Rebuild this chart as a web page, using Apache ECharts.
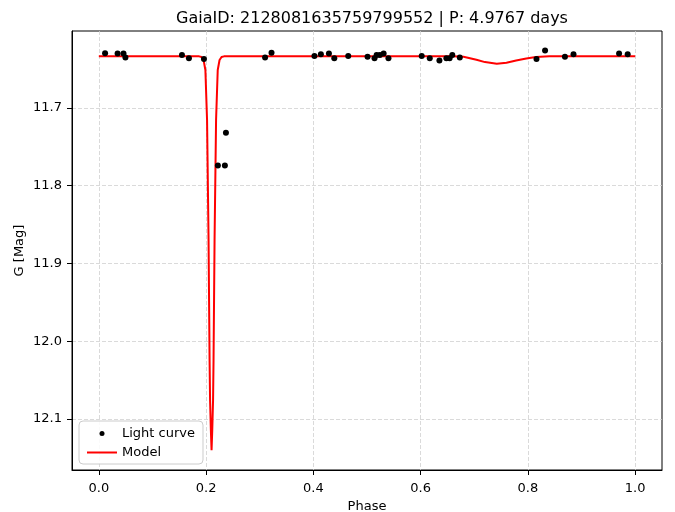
<!DOCTYPE html>
<html><head><meta charset="utf-8">
<script src="https://cdn.jsdelivr.net/npm/echarts@6/dist/echarts.min.js"></script>
<style>html,body{margin:0;padding:0;background:#fff}#c{width:675px;height:512px}</style>
</head><body><div id="c"></div>
<script>
const titleText = 'GaiaID: 2128081635759799552 | P: 4.9767 days';
const xTicks = [0, 0.2, 0.4, 0.6, 0.8, 1.0];
const yTicks = [11.7, 11.8, 11.9, 12.0, 12.1];

const lcPhase = [0.0117,0.035,0.046,0.0496,0.155,0.168,0.196,0.222,0.235,0.237,0.310,0.322,0.402,0.414,0.429,0.439,0.465,0.501,0.514,0.518,0.524,0.531,0.540,0.602,0.617,0.635,0.648,0.654,0.659,0.673,0.816,0.832,0.869,0.885,0.970,0.986];
const lcMag   = [11.6295,11.630,11.630,11.635,11.632,11.636,11.637,11.774,11.774,11.732,11.635,11.629,11.633,11.631,11.630,11.636,11.633,11.634,11.636,11.632,11.632,11.630,11.636,11.633,11.636,11.639,11.636,11.636,11.632,11.635,11.637,11.626,11.634,11.631,11.630,11.631];

const modelPhase = [0.0,0.18,0.187,0.1916,0.1953,0.1987,0.2018,0.2046,0.2065,0.2074,0.2089,0.2102,0.2115,0.2130,0.2139,0.2158,0.2186,0.2217,0.2251,0.2288,0.2334,0.24,0.66,0.68,0.704,0.72,0.742,0.76,0.778,0.797,0.815,0.84,1.0];
const modelMag   = [11.6335,11.6335,11.6336,11.6345,11.6383,11.6511,11.7154,11.8698,12.0241,12.0756,12.1141,12.14,12.1141,12.0756,12.0241,11.8698,11.7154,11.6511,11.6383,11.6345,11.6336,11.6335,11.6335,11.634,11.638,11.641,11.643,11.6418,11.639,11.6363,11.6345,11.6336,11.6335];

const font = 'DejaVu Sans';
const chart = echarts.init(document.getElementById('c'), null, {renderer:'canvas'});
chart.setOption({
  animation:false,
  backgroundColor:'#fff',
  title:{text:titleText,left:367,top:6,textAlign:'center',textStyle:{fontFamily:font,fontSize:16,fontWeight:'normal',color:'#000'}},
  grid:{left:72,top:31,width:590,height:439,outerBoundsMode:'none',containLabel:false,show:true,borderColor:'#000',borderWidth:1,backgroundColor:'transparent'},
  xAxis:{type:'value',min:-0.05,max:1.05,splitNumber:5,
    name:'Phase',nameLocation:'middle',nameGap:30,nameTextStyle:{fontFamily:font,fontSize:13,color:'#000'},
    axisLine:{show:true,onZero:false,lineStyle:{color:'#000'}},
    axisTick:{show:true,length:5,lineStyle:{color:'#000'},customValues:xTicks},
    axisLabel:{fontFamily:font,fontSize:13,color:'#000',margin:12,customValues:xTicks,formatter:v=>v.toFixed(1)},
    splitLine:{show:true,lineStyle:{color:'#d0d0d0',type:[4,2],width:0.8}}},
  yAxis:{type:'value',inverse:true,min:11.601,max:12.1656,splitNumber:5,
    name:'G [Mag]',nameLocation:'middle',nameGap:46,nameMoveOverlap:false,nameRotate:90,nameTextStyle:{fontFamily:font,fontSize:13,color:'#000'},
    axisLine:{show:true,onZero:false,lineStyle:{color:'#000'}},
    axisTick:{show:true,length:5,lineStyle:{color:'#000'},customValues:yTicks},
    axisLabel:{fontFamily:font,fontSize:13,color:'#000',margin:10,customValues:yTicks,formatter:v=>v.toFixed(1)},
    splitLine:{show:true,lineStyle:{color:'#d0d0d0',type:[4,2],width:0.8}}},
  legend:{orient:'vertical',left:79,top:421,padding:[6,8,5,8],itemGap:6,itemWidth:30,itemHeight:5,
    borderColor:'#ccc',borderWidth:1,borderRadius:4,backgroundColor:'rgba(255,255,255,0.85)',
    textStyle:{fontFamily:font,fontSize:13,color:'#000'},
    data:[{name:'Light curve',icon:'circle'},{name:'Model',icon:'path://M0,0 L30,0 L30,2 L0,2 Z'}]},
  series:[
    {name:'Model',type:'line',data:modelPhase.map((p,i)=>[p,modelMag[i]]),showSymbol:false,symbol:'none',smooth:false,
      lineStyle:{color:'#ff0000',width:2},itemStyle:{color:'#ff0000'},z:2},
    {name:'Light curve',type:'scatter',data:lcPhase.map((p,i)=>[p,lcMag[i]]),symbolSize:6,itemStyle:{color:'#000',opacity:1},z:3}
  ]
});
</script></body></html>
